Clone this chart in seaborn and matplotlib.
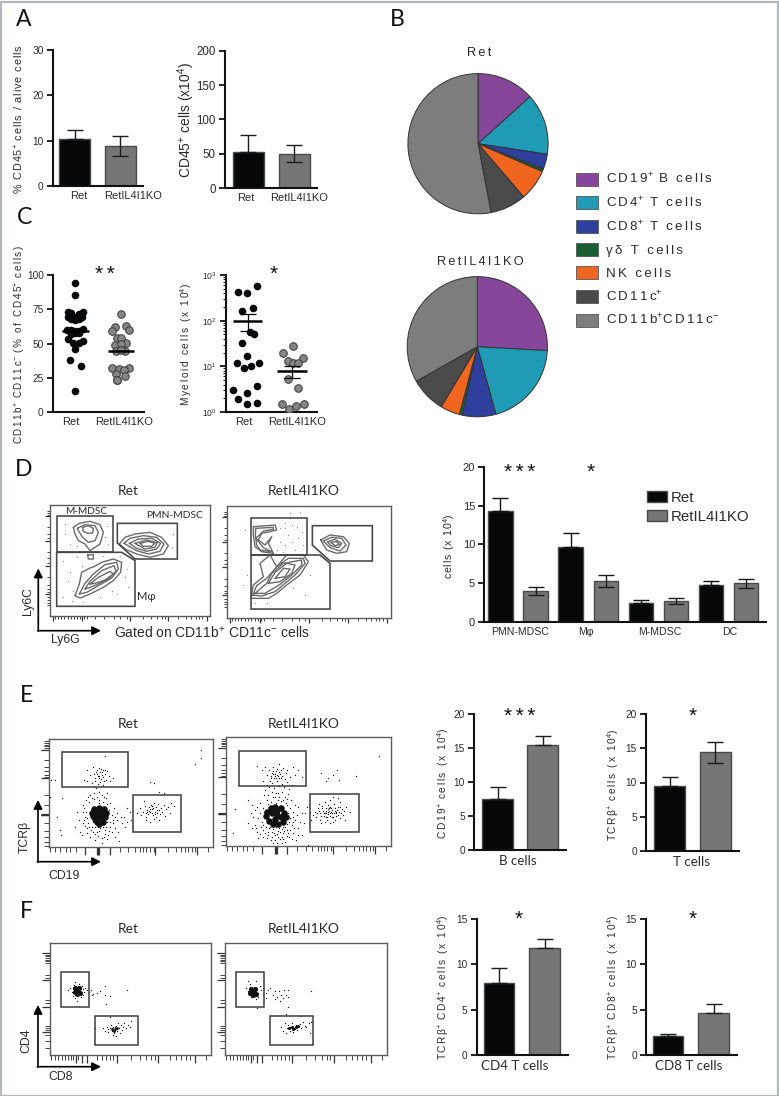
import numpy as np
import matplotlib
matplotlib.use("Agg")
import matplotlib.pyplot as plt
from matplotlib.patches import Patch, Rectangle, Polygon
from matplotlib.transforms import Affine2D
import seaborn as sns

W, H = 779, 1096
sns.set_theme(style="ticks")
plt.rcParams['font.family'] = ['Liberation Sans', 'DejaVu Sans']
plt.rcParams['mathtext.fontset'] = 'custom'
plt.rcParams['mathtext.rm'] = 'Liberation Sans'
plt.rcParams['mathtext.it'] = 'Liberation Sans'
plt.rcParams['mathtext.bf'] = 'Liberation Sans'
plt.rcParams['mathtext.default'] = 'regular'
INK = '#2a2a2a'
BLACK, GREY = '#050708', '#767676'
groups = ['Ret', 'RetIL4I1KO']

# ---------- data ----------
a1_vals, a1_top, a1_low = [10.5, 8.8], [12.5, 11.0], [10.5, 6.6]
a2_vals, a2_top, a2_low = [52, 50], [77, 62], [52, 38]
e1_vals, e1_top, e1_low = [7.5, 15.4], [9.2, 16.7], [7.5, 15.4]
e2_vals, e2_top, e2_low = [9.5, 14.4], [10.8, 15.9], [9.5, 12.8]
f1_vals, f1_top, f1_low = [8.0, 11.8], [9.6, 12.8], [8.0, 11.8]
f2_vals, f2_top, f2_low = [2.1, 4.65], [2.35, 5.6], [2.1, 4.65]

d_cats = ['PMN-MDSC', 'Mφ', 'M-MDSC', 'DC']
d_ret, d_ret_top = [14.3, 9.7, 2.5, 4.8], [16.0, 11.4, 2.85, 5.25]
d_ko, d_ko_top, d_ko_low = [4.0, 5.3, 2.7, 5.0], [4.5, 6.1, 3.05, 5.6], [3.5, 4.5, 2.35, 4.4]

pie_labels = ['CD19$^{+}$ B cells', 'CD4$^{+}$ T cells', 'CD8$^{+}$ T cells', 'γδ T cells',
              'NK cells', 'CD11c$^{+}$', 'CD11b$^{+}$CD11c$^{-}$']
pie_colors = ['#86479a', '#1f9bb5', '#2e3f9e', '#1a5e33', '#f0651f', '#4a4a4a', '#7d7d7d']
pie_ret = [13.3, 14.1, 3.4, 0.7, 7.2, 8.3, 52.95]
pie_ko = [25.9, 19.85, 7.7, 0.7, 4.5, 8.2, 33.2]

c1_ret_pos = [0, 0, -22, 24, -11, 13, 1, -20, 21, -11, 11, 0, -25, -13, -1, 11, 25, 0, -13, 13,
              -20, 25, -7, 13, 1, -15, 17, 0]
c1_ret = [94.4, 85.6, 73.2, 73, 72, 71.5, 69.6, 69.1, 69.1, 67.6, 67.6, 67.2, 59.9, 59.9, 59.4, 59.4,
          60.3, 57.4, 56.9, 57.4, 53.5, 52.1, 50.6, 50.1, 45.7, 38, 33.6, 15.1]
c1_ko_pos = [0, -16, 16, -26, 26, -10, 16, 0, -17, 0, -15, 13, 0, -25, 25, -4, 10, -15, 13, -11, -10]
c1_ko = [71.5, 61.8, 62.8, 58.9, 59.6, 53.9, 50.6, 53.9, 49, 49.6, 44.3, 44.5, 45, 32, 32.4, 31.5, 31,
         27.7, 26.3, 23.4, 23]
c1_means = [59.4, 44.6]

c2_ret_pos = [28, -31, -2, 14, -17, 7, 17, -17, -2, -35, 32, 10, -13, 27, -45, -2, -31, -2, 28]
c2_ret = [565, 424, 410, 186, 160, 55.5, 52, 32, 17, 11.6, 11.6, 10.3, 9.35, 3.65, 3.03, 2.56, 1.89, 1.47, 1.6]
c2_ko_pos = [0, -29, -14, 30, 0, 15, -15, 16, -34, 34, 10, -12]
c2_ko = [27.4, 19.6, 13.1, 15, 11.6, 12, 5.28, 3.41, 1.5, 1.5, 1.35, 1.16]
c2_means, c2_top, c2_low = [100, 7.8], [138, 10.2], [60, 5.46]

# flow cytometry: gates, contours and events in the channel units of each plot
dr_mgate = [(50, 67), (218, 67), (218, 175), (50, 175)]
dr_mac = [(50, 175), (245, 175), (285, 200), (285, 337), (50, 337)]
dr_pmn = [(232, 88), (412, 88), (412, 195), (285, 195), (232, 147)]
dr_contours = [
    [(100, 100), (118, 88), (150, 82), (180, 92), (190, 115), (180, 150), (150, 170), (135, 150), (115, 140), (105, 120)],
    [(112, 103), (135, 92), (165, 95), (175, 115), (165, 140), (145, 145), (128, 130), (118, 115)],
    [(128, 100), (145, 95), (160, 103), (158, 117), (143, 118), (130, 112)],
    [(238, 150), (255, 130), (285, 120), (330, 115), (365, 130), (385, 155), (370, 180), (330, 190), (290, 180), (255, 165)],
    [(252, 148), (270, 133), (310, 125), (350, 130), (372, 150), (360, 172), (325, 180), (290, 170)],
    [(268, 148), (295, 135), (335, 133), (362, 148), (350, 165), (320, 172), (290, 163)],
    [(285, 148), (320, 138), (352, 146), (345, 160), (315, 165)],
    [(300, 148), (325, 142), (345, 148), (335, 157), (310, 157)],
    [(143, 183), (160, 182), (160, 195), (145, 195)],
    [(105, 305), (118, 270), (125, 235), (150, 222), (162, 218), (185, 205), (220, 195), (245, 205), (242, 235), (220, 260), (190, 280), (150, 300), (120, 312)],
    [(118, 300), (135, 268), (160, 240), (195, 212), (230, 205), (235, 225), (215, 252), (175, 275), (140, 295)],
    [(135, 285), (150, 262), (185, 230), (222, 215), (228, 232), (205, 255), (170, 272), (145, 282)],
    [(150, 270), (175, 250), (210, 232), (220, 240), (195, 258), (165, 268)],
]
dr_events = np.array([(70, 200), (85, 260), (95, 320), (110, 190), (125, 215), (75, 120), (90, 150), (195, 130), (205, 150),
                      (200, 170), (190, 185), (100, 290), (255, 250), (260, 225), (265, 280), (215, 290), (90, 235), (110, 155),
                      (75, 90), (200, 95), (240, 185), (395, 160), (400, 120), (230, 300), (180, 310), (130, 325), (70, 310)]).T

dk_mgate = [(93, 70), (262, 70), (262, 180), (93, 180)]
dk_mac = [(93, 180), (300, 180), (330, 205), (330, 342), (93, 342)]
dk_pmn = [(277, 92), (457, 92), (457, 198), (330, 198), (277, 150)]
dk_contours = [
    [(100, 95), (165, 90), (170, 105), (150, 110), (125, 115), (115, 135), (135, 150), (155, 125), (145, 145), (160, 175), (125, 170), (105, 155), (100, 120)],
    [(107, 100), (160, 97), (160, 103), (130, 108), (108, 130), (130, 158), (155, 170), (120, 165), (110, 150), (106, 120)],
    [(302, 135), (330, 120), (370, 125), (388, 145), (380, 170), (350, 175), (320, 165)],
    [(310, 138), (335, 127), (365, 130), (378, 150), (360, 168), (330, 158)],
    [(322, 140), (345, 133), (365, 145), (355, 158), (332, 152)],
    [(332, 142), (350, 140), (358, 148), (345, 152)],
    [(92, 310), (100, 270), (130, 245), (120, 205), (150, 180), (170, 215), (200, 180), (250, 180), (265, 200), (240, 240), (200, 270), (170, 295), (145, 310), (110, 310)],
    [(98, 300), (110, 272), (140, 250), (170, 215), (205, 190), (250, 190), (255, 205), (225, 240), (195, 265), (165, 290), (125, 303)],
    [(105, 295), (140, 265), (155, 235), (190, 205), (245, 195), (245, 210), (215, 240), (180, 268), (135, 295)],
    [(145, 265), (165, 232), (200, 205), (225, 210), (215, 235), (180, 260)],
    [(165, 250), (190, 220), (210, 222), (195, 245)],
]
dk_events = np.array([(180, 100), (195, 85), (215, 90), (230, 95), (205, 120), (180, 140), (195, 150), (215, 140), (235, 130), (170, 165),
                      (190, 170), (225, 165), (245, 110), (210, 55), (240, 50), (75, 105), (80, 240), (70, 270), (105, 325), (140, 325),
                      (220, 280), (270, 240), (255, 300), (195, 100), (250, 150)]).T

er_T = np.array([(262, 272), (270, 285), (278, 262), (285, 295), (290, 270), (292, 283), (296, 264), (298, 290), (300, 276), (303, 298),
                 (305, 285), (308, 270), (310, 292), (314, 282), (318, 300), (322, 275), (326, 290), (252, 300), (260, 305), (275, 310),
                 (283, 318), (295, 312), (310, 315), (330, 305), (340, 295), (288, 325), (296, 335), (282, 340), (305, 345), (290, 350),
                 (276, 355), (298, 360), (313, 352), (320, 338), (270, 345), (314, 228), (288, 278), (294, 288), (302, 268), (306, 278),
                 (296, 296), (282, 282), (316, 270), (300, 306), (286, 305), (312, 305)]).T
er_halo = np.array([(240, 455), (248, 430), (255, 410), (232, 395), (262, 445), (270, 470), (278, 455), (285, 480), (295, 468), (305, 488),
                    (315, 462), (322, 478), (335, 455), (345, 470), (358, 482), (340, 430), (352, 420), (362, 410), (375, 440), (380, 425),
                    (330, 440), (248, 375), (258, 360), (265, 352), (330, 370), (342, 385), (350, 400), (318, 355), (238, 420), (225, 440),
                    (265, 430), (275, 440), (300, 445), (310, 440), (320, 425), (290, 455), (280, 425), (262, 415), (250, 395), (335, 405),
                    (328, 390), (345, 445), (305, 475), (262, 460), (245, 465), (325, 465), (300, 430), (285, 440), (315, 450), (355, 455),
                    (255, 438), (272, 450), (286, 462), (298, 452), (312, 470), (328, 452), (338, 420), (330, 425), (345, 412), (258, 395),
                    (252, 420), (268, 365), (282, 358), (296, 368), (310, 365), (322, 372), (252, 385), (268, 442), (293, 440), (318, 440)]).T
er_core = np.array([(285, 395), (300, 390), (310, 400), (295, 410), (280, 408), (305, 415), (290, 425), (298, 384), (276, 398), (315, 410),
                    (300, 402), (283, 386), (312, 388), (318, 398), (308, 425), (296, 432), (285, 416)]).T
er_B = np.array([(410, 400), (420, 385), (425, 405), (430, 395), (435, 378), (438, 410), (442, 390), (445, 402), (448, 382), (452, 395),
                 (455, 375), (458, 388), (460, 405), (463, 368), (465, 395), (468, 380), (470, 410), (473, 390), (476, 372), (480, 402),
                 (484, 385), (488, 395), (492, 375), (496, 408), (500, 388), (505, 380), (510, 398), (515, 370), (522, 378), (440, 420),
                 (450, 425), (462, 418), (478, 420), (432, 362), (450, 306), (462, 310), (478, 335), (494, 338), (380, 385), (390, 395),
                 (365, 430), (372, 410), (398, 440), (392, 420), (185, 355), (170, 410), (180, 450), (182, 465), (150, 350), (152, 300),
                 (585, 252), (603, 234), (605, 212), (165, 300), (447, 392), (456, 398), (461, 385), (466, 402), (452, 386), (472, 398),
                 (443, 396), (458, 378), (478, 390), (438, 398)]).T

ek_T = np.array([(772, 260), (785, 270), (795, 262), (802, 285), (808, 272), (812, 295), (816, 280), (820, 262), (824, 290), (828, 275),
                 (832, 285), (836, 252), (838, 295), (842, 272), (846, 288), (850, 265), (854, 298), (858, 280), (862, 272), (870, 292),
                 (878, 262), (885, 285), (895, 270), (905, 292), (790, 305), (800, 315), (815, 310), (830, 305), (845, 312), (860, 308),
                 (875, 315), (795, 330), (805, 345), (815, 335), (825, 352), (835, 340), (845, 335), (855, 350), (865, 342), (800, 360),
                 (812, 365), (828, 370), (842, 362), (858, 368), (872, 360), (965, 280), (980, 305), (985, 295), (1000, 285), (1012, 272),
                 (1018, 300), (1070, 290), (1137, 230), (818, 284), (826, 282), (834, 290), (822, 296), (836, 276), (840, 284), (828, 296),
                 (814, 288), (844, 294), (830, 268), (820, 274), (810, 304), (838, 318), (852, 322), (822, 325), (808, 322), (866, 328),
                 (828, 338), (838, 352), (818, 352), (850, 360), (805, 372), (835, 360), (860, 356), (792, 345)]).T
ek_halo = np.array([(745, 360), (755, 375), (765, 390), (780, 370), (790, 385), (705, 388), (755, 445), (770, 455), (782, 440), (790, 470),
                    (800, 430), (805, 455), (812, 480), (820, 440), (825, 465), (832, 490), (838, 445), (845, 470), (850, 440), (855, 485),
                    (860, 450), (868, 470), (875, 435), (880, 460), (888, 480), (895, 445), (905, 465), (870, 415), (880, 395), (895, 380),
                    (905, 400), (885, 375), (860, 375), (795, 410), (785, 425), (775, 415), (765, 435), (800, 395), (855, 425), (865, 400),
                    (870, 385), (815, 455), (835, 470), (850, 460), (790, 450), (810, 430), (845, 490), (925, 495), (700, 460), (745, 430),
                    (915, 400), (920, 380), (935, 420), (800, 475), (775, 475), (826, 480), (860, 468), (840, 455), (870, 450), (880, 425),
                    (808, 445), (818, 448), (828, 442), (835, 452), (845, 448), (855, 440), (862, 432), (868, 425), (798, 440), (788, 435),
                    (780, 400), (792, 395), (772, 380), (878, 410), (886, 420), (892, 405), (900, 425), (912, 430), (760, 410), (752, 398),
                    (815, 470), (822, 458), (830, 462), (840, 478), (852, 452), (865, 458), (875, 478), (883, 445), (893, 465), (805, 465),
                    (795, 460), (780, 462), (768, 445), (810, 440), (850, 478), (820, 488)]).T
ek_core = np.array([(800, 395), (812, 385), (826, 380), (842, 385), (852, 398), (858, 412), (850, 425), (835, 432), (820, 432), (806, 422),
                    (798, 408), (815, 400), (830, 405), (842, 410), (825, 418), (830, 390)]).T
ek_B = np.array([(945, 395), (950, 410), (955, 385), (960, 400), (962, 420), (966, 378), (970, 392), (972, 408), (975, 365), (978, 385),
                 (980, 400), (982, 420), (985, 375), (988, 392), (990, 408), (992, 360), (995, 385), (998, 400), (1000, 425), (1003, 372),
                 (1006, 392), (1010, 408), (1014, 380), (1018, 395), (1022, 365), (1026, 388), (1030, 405), (1040, 380), (1050, 395), (965, 430),
                 (975, 425), (990, 430), (1005, 420), (1020, 415), (1035, 420), (958, 372), (1000, 352), (1015, 355), (985, 395), (995, 395),
                 (975, 398), (1005, 385), (992, 380), (982, 410), (1000, 410), (968, 385), (972, 400), (978, 392), (984, 402), (988, 384),
                 (992, 398), (996, 390), (1002, 398), (1008, 400), (1012, 390), (1016, 405), (1020, 382), (965, 408), (958, 392), (978, 412),
                 (996, 412), (1010, 395), (986, 388), (1024, 398), (1033, 392), (952, 400), (940, 405), (932, 395)]).T

fr_cd4 = np.array([(210, 925), (215, 938), (222, 915), (245, 918), (250, 945), (243, 952), (225, 955), (232, 962), (260, 932), (268, 938), (272, 930),
                   (218, 948), (248, 928), (225, 908), (237, 912), (205, 932), (275, 945), (290, 940), (300, 935), (315, 920), (278, 942), (314, 945),
                   (330, 948), (380, 930), (317, 972), (255, 925), (252, 938)]).T
fr_cd4_core = np.array([(226, 925), (238, 925), (232, 932), (224, 938), (240, 940), (232, 942)]).T
fr_cd8 = np.array([(285, 1044), (310, 1045), (315, 1052), (320, 1040), (325, 1055), (330, 1045), (332, 1035), (336, 1052), (340, 1042), (342, 1060),
                   (345, 1048), (348, 1038), (350, 1052), (354, 1028), (356, 1045), (360, 1058), (362, 1036), (366, 1050), (370, 1042), (372, 1030),
                   (378, 1045), (385, 1036), (390, 1040), (392, 1022), (330, 1010), (338, 1065), (348, 1068), (325, 1048), (335, 1045), (345, 1042), (352, 1046), (340, 1050)]).T
fr_cd8_core = np.array([(335, 1046), (345, 1048), (352, 1044), (342, 1052)]).T

fk_cd4 = np.array([(740, 925), (745, 905), (752, 912), (748, 945), (755, 952), (770, 905), (780, 918), (775, 950), (770, 958), (785, 932), (790, 925),
                   (745, 935), (790, 945), (800, 940), (812, 925), (820, 945), (825, 935), (832, 950), (838, 935), (845, 945), (852, 930), (860, 945),
                   (865, 932), (865, 952), (825, 958), (840, 962), (865, 980), (935, 935), (772, 985), (798, 955), (805, 932), (850, 955)]).T
fk_cd4_core = np.array([(754, 928), (766, 928), (760, 935), (752, 940), (768, 942), (760, 945)]).T
fk_cd8 = np.array([(845, 1040), (850, 1052), (855, 1030), (858, 1060), (862, 1045), (866, 1035), (870, 1052), (874, 1042), (878, 1030), (880, 1055),
                   (884, 1045), (888, 1036), (892, 1050), (896, 1040), (900, 1032), (905, 1045), (910, 1025), (915, 1038), (920, 1042), (928, 1030),
                   (935, 1025), (932, 1060), (905, 1008), (858, 1002), (875, 1042), (880, 1040), (885, 1048), (870, 1040), (890, 1042), (895, 1035), (880, 1045), (865, 1045)]).T
fk_cd8_core = np.array([(868, 1044), (878, 1042), (888, 1040), (880, 1048), (896, 1038)]).T

tick_d_x_maj = [0.02, 0.2, 0.5, 0.74, 0.98]
tick_d_x_min = [0.03, 0.05, 0.07, 0.09, 0.11, 0.13, 0.15, 0.17, 0.19, 0.21, 0.23, 0.28, 0.34, 0.4, 0.44, 0.48, 0.58, 0.63, 0.67, 0.7, 0.72, 0.8, 0.85, 0.88, 0.91, 0.93, 0.95]
tick_d_y_maj = [0.1, 0.32, 0.55, 0.8]
tick_d_y_min = [0.05, 0.07, 0.09, 0.2, 0.26, 0.3, 0.42, 0.48, 0.52, 0.65, 0.72, 0.76, 0.78, 0.83, 0.86, 0.88, 0.9]
tick_e_x_maj = [0.221, 0.296, 0.3, 0.308, 0.372, 0.648, 0.9]
tick_e_x_min = [0.008, 0.038, 0.069, 0.103, 0.13, 0.166, 0.433, 0.484, 0.524, 0.555, 0.575, 0.595, 0.615, 0.638, 0.727, 0.777, 0.808, 0.83, 0.85, 0.87, 0.888, 0.97]
tick_e_y_maj = [0.1, 0.366, 0.699, 0.702, 0.705]
tick_e_y_min = [0.022, 0.037, 0.053, 0.068, 0.084, 0.193, 0.261, 0.301, 0.332, 0.354, 0.519, 0.612, 0.782, 0.851, 0.907, 0.953, 0.99]
tick_f_x_maj = [0.161, 0.196, 0.231, 0.416, 0.673, 0.899]
tick_f_x_min = [0.004, 0.031, 0.052, 0.072, 0.093, 0.114, 0.128, 0.145, 0.174, 0.29, 0.32, 0.347, 0.372, 0.393, 0.502, 0.558, 0.599, 0.63, 0.651, 0.744, 0.785, 0.816, 0.847, 0.868, 0.971]
tick_f_y_maj = [0.09, 0.33, 0.57, 0.8]
tick_f_y_min = [0.105, 0.12, 0.135, 0.15, 0.165, 0.18, 0.29, 0.31, 0.51, 0.54, 0.74, 0.76, 0.78, 0.82, 0.88, 0.94]

# ---------- helpers ----------
fig = plt.figure(figsize=(W / 100, H / 100), dpi=100, facecolor='white')
PX = Affine2D().scale(1 / W, -1 / H).translate(0, 1) + fig.transFigure
HS = '\u200a'


def sp(s, n=1):
    """widen tracking of plain text runs; math runs are left alone"""
    parts = s.split('$')
    for i in range(0, len(parts), 2):
        parts[i] = (HS * n).join(parts[i])
    return '$'.join(parts)


def mkax(x0, x1, ytop, ybot):
    return fig.add_axes([x0 / W, 1 - ybot / H, (x1 - x0) / W, (ybot - ytop) / H], facecolor='none')


def txt(x, y, s, size=8, ha='center', va='center', rot=0, color=INK, family=None, weight=None):
    kw = {'family': family} if family else {}
    fig.text(x / W, 1 - y / H, s, fontsize=size, ha=ha, va=va, rotation=rot, color=color, weight=weight, **kw)


def style_axis(ax, tick_size):
    sns.despine(ax=ax)
    for s in ('left', 'bottom'):
        ax.spines[s].set_linewidth(1.5)
        ax.spines[s].set_color('#111111')
    ax.tick_params(axis='y', length=4, width=1.3, pad=2.5, labelsize=tick_size, labelcolor=INK, color='#111111')
    ax.tick_params(axis='x', length=0, pad=3.5, labelsize=8, labelcolor=INK)


def ylab(ax, s, x, y, size):
    ax.set_ylabel(s, fontsize=size, color=INK, va='center', ha='center')
    ax.yaxis.set_label_coords(x, y, transform=PX)


def bar_panel(box, ymax, yticks, edges, vals, top, low, ylabel, lab_pos, xlabels, tick_size=7.3, xfont=None, xsize=8):
    x0, x1, yt, yb = box
    ax = mkax(x0, x1, yt, yb)
    (a0, a1), (b0, b1) = edges
    c0, c1 = (a0 + a1) / 2, (b0 + b1) / 2
    d = c1 - c0
    sns.barplot(x=groups, y=vals, hue=groups, palette=[BLACK, GREY], legend=False, ax=ax,
                width=(a1 - a0) / d, edgecolor='#4a4a4a', linewidth=1.0, saturation=1)
    ax.errorbar([0, 1], vals, yerr=[np.array(vals) - np.array(low), np.array(top) - np.array(vals)],
                fmt='none', ecolor='#1c1c1c', elinewidth=1.0, capsize=5.5, capthick=1.0, zorder=5)
    ax.set_xlim((x0 - c0) / d, (x1 - c0) / d)
    ax.set_ylim(0, ymax)
    ax.set_yticks(yticks)
    style_axis(ax, tick_size)
    ax.set_xticks([(p - c0) / d for p in lab_pos])
    ax.set_xticklabels(xlabels, fontsize=xsize, **({'family': xfont} if xfont else {}))
    ax.set_xlabel('')
    ylab(ax, *ylabel)
    return ax


def gate(ax, pts, color='#454545', lw=1.15):
    ax.add_patch(Polygon(pts, closed=True, fill=False, edgecolor=color, linewidth=lw, zorder=4))


def flow_ax(box, lims, ticks, tick_len):
    x0, x1, yt, yb = box
    ax = mkax(x0, x1, yt, yb)
    ax.set_xlim(lims[0], lims[1])
    ax.set_ylim(lims[2], lims[3])
    for s in ax.spines.values():
        s.set_linewidth(1.0)
        s.set_color('#5c5c5c')
    xmaj, xmin, ymaj, ymin = ticks
    xs = lims[1] - lims[0]
    ys = lims[2] - lims[3]
    ax.set_xticks([lims[0] + f * xs for f in xmaj])
    ax.set_xticks([lims[0] + f * xs for f in xmin], minor=True)
    ax.set_yticks([lims[3] + f * ys for f in ymaj])
    ax.set_yticks([lims[3] + f * ys for f in ymin], minor=True)
    ax.tick_params(which='major', length=tick_len * 1.6, width=0.9, color='#333333', labelbottom=False, labelleft=False)
    ax.tick_params(which='minor', length=tick_len, width=0.7, color='#444444')
    return ax


def dots(ax, arr, s=0.9, color='#111111'):
    sns.scatterplot(x=arr[0], y=arr[1], s=s, color=color, linewidth=0, legend=False, ax=ax, zorder=3)


def contours(ax, rings):
    for r in rings:
        p = np.array(r + [r[0]])
        ax.plot(p[:, 0], p[:, 1], color='#6a6a6a', lw=1.0, zorder=3)


def arrows(xc, ybot, ytop, xend):
    ov = fig.add_axes([0, 0, 1, 1], facecolor='none')
    ov.set_xlim(0, W)
    ov.set_ylim(H, 0)
    ov.axis('off')
    ov.annotate('', xy=(xc, ytop), xytext=(xc, ybot + 0.6),
                arrowprops=dict(arrowstyle='-|>', color='black', lw=1.2, mutation_scale=13, shrinkA=0, shrinkB=0))
    ov.annotate('', xy=(xend, ybot), xytext=(xc - 0.6, ybot),
                arrowprops=dict(arrowstyle='-|>', color='black', lw=1.2, mutation_scale=13, shrinkA=0, shrinkB=0))


# ---------- outer frame ----------
fig.patches.append(Rectangle((0.5 / W, 0.5 / H), (W - 2) / W, (H - 2.5) / H, transform=fig.transFigure,
                             fill=False, edgecolor='#b4b8bc', linewidth=1.6))

# ---------- A ----------
lab_x = [79, 132.7]
bar_panel((52.7, 143, 50, 186.3), 30, [0, 10, 20, 30], [(59, 90), (105, 135)], a1_vals, a1_top, a1_low,
          (sp('% CD45$^{+}$ cells / alive cells', 1), 19.3, 119, 7.8), lab_x, groups)
bar_panel((225, 317, 50.7, 188), 200, [0, 50, 100, 150, 200], [(233, 264), (279, 310)], a2_vals, a2_top, a2_low,
          ('CD45$^{+}$ cells (x10$^{4}$)', 186.7, 120, 10), [245.5, 299], groups, tick_size=8.3)

# ---------- C ----------
swarm_unit = 137.0
ax = mkax(52.7, 144, 275, 412)
c0, d = 75.0, 45.7
sns.scatterplot(x=np.array(c1_ret_pos) / swarm_unit, y=c1_ret, s=30, color=BLACK, linewidth=0, legend=False, ax=ax, zorder=3)
sns.scatterplot(x=1 + np.array(c1_ko_pos) / swarm_unit, y=c1_ko, s=30, color='#858585', edgecolor='#3a3a3a', linewidth=0.7, legend=False, ax=ax, zorder=3)
ax.hlines(c1_means, [-0.28, 0.72], [0.31, 1.3], color='black', lw=1.8, zorder=4)
ax.set_xlim((52.7 - c0) / d, (144 - c0) / d)
ax.set_ylim(0, 100)
ax.set_yticks([0, 25, 50, 75, 100])
style_axis(ax, 7.3)
ax.set_xticks([(71 - c0) / d, (124.5 - c0) / d])
ax.set_xticklabels(groups)
ylab(ax, sp('CD11b$^{+}$ CD11c$^{-}$ (% of CD45$^{+}$ cells)', 2), 20, 344, 7.1)

ax = mkax(226, 317, 275, 412)
c0, d = 248.0, 45.0
sns.scatterplot(x=np.array(c2_ret_pos) / swarm_unit, y=c2_ret, s=30, color=BLACK, linewidth=0, legend=False, ax=ax, zorder=3)
sns.scatterplot(x=1 + np.array(c2_ko_pos) / swarm_unit, y=c2_ko, s=30, color='#858585', edgecolor='#3a3a3a', linewidth=0.7, legend=False, ax=ax, zorder=3)
ax.hlines(c2_means, [-0.33, 0.64], [0.32, 1.3], color='black', lw=1.8, zorder=4)
ax.errorbar([0, 0.98], c2_means, yerr=[np.array(c2_means) - np.array(c2_low), np.array(c2_top) - np.array(c2_means)],
            fmt='none', ecolor='black', elinewidth=0.9, capsize=5.5, capthick=0.9, zorder=4)
ax.set_yscale('log')
ax.set_xlim((226 - c0) / d, (317 - c0) / d)
ax.set_ylim(1, 1000)
ax.set_yticks([1, 10, 100, 1000])
ax.set_yticklabels(['$10^{0}$', '$10^{1}$', '$10^{2}$', '$10^{3}$'])
style_axis(ax, 6.2)
ax.tick_params(axis='y', which='minor', length=2.2, width=0.7, color='#111111', labelleft=False)
ax.set_xticks([(243.5 - c0) / d, (297 - c0) / d])
ax.set_xticklabels(groups)
ylab(ax, sp('Myeloid cells (x 10$^{4}$)', 2), 186, 345, 7.3)

# ---------- B ----------
for (cx, cy, vals) in ((478, 143.7, pie_ret), (477.3, 346.7, pie_ko)):
    r = 70.8
    ax = mkax(cx - r, cx + r, cy - r, cy + r)
    ax.pie(vals, colors=pie_colors, startangle=90, counterclock=False, radius=1,
           wedgeprops=dict(edgecolor='#333333', linewidth=0.7))
    ax.set_xlim(-1.01, 1.01)
    ax.set_ylim(-1.01, 1.01)
txt(479, 53.3, sp('Ret', 2), 9.2)
txt(480, 262, sp('RetIL4I1KO', 2), 9.2)

handles = [Patch(facecolor=c, edgecolor='#555555', linewidth=0.6) for c in pie_colors]
fig.legend(handles, [sp(l, 2) for l in pie_labels], loc='upper left', bbox_to_anchor=(576, 171.5), bbox_transform=PX,
           frameon=False, fontsize=9.6, handlelength=1.63, handleheight=1.12, labelspacing=0.66, handletextpad=0.62,
           borderpad=0, borderaxespad=0, labelcolor=INK)

# ---------- D ----------
dr_box = (50, 210, 505, 616)
dk_box = (226.7, 390.7, 506, 617.7)
ticks_d = (tick_d_x_maj, tick_d_x_min, tick_d_y_maj, tick_d_y_min)
ax = flow_ax(dr_box, (30, 510, 366, 33), ticks_d, 2.2)
for g in (dr_mgate, dr_mac, dr_pmn):
    gate(ax, g)
contours(ax, dr_contours)
dots(ax, dr_events, 0.8, '#8a8a8a')
ax = flow_ax(dk_box, (20, 512, 368, 33), ticks_d, 2.2)
gate(ax, dk_mgate)
gate(ax, dk_mac)
gate(ax, dk_pmn)
contours(ax, dk_contours)
dots(ax, dk_events, 0.8, '#8a8a8a')
txt(86, 511.5, 'M-MDSC', 7.2, family='Lato')
txt(175, 515.7, 'PMN-MDSC', 7.4, family='Lato')
txt(146.5, 596.7, 'Mφ', 8, family=['Lato', 'DejaVu Sans'])
txt(128, 490.7, 'Ret', 10, family='Lato')
txt(304, 490.7, 'RetIL4I1KO', 10, family='Lato')
arrows(38.3, 630.7, 568.5, 101)
txt(28, 601, 'Ly6C', 8.8, rot=90)
txt(65, 639.5, 'Ly6G', 8.8)
txt(212, 632.7, 'Gated on CD11b$^{+}$ CD11c$^{-}$ cells', 10)

ax = mkax(484, 765.7, 466.7, 622)
c0, d = 518.0, 70.2
dcat = d_cats + d_cats
dhue = [groups[0]] * 4 + [groups[1]] * 4
sns.barplot(x=dcat, y=d_ret + d_ko, hue=dhue, palette=[BLACK, GREY], width=1.0, gap=0.307, ax=ax,
            edgecolor='#4a4a4a', linewidth=1.0, saturation=1)
pos = np.arange(4)
ax.errorbar(pos - 0.25, d_ret, yerr=[np.zeros(4), np.array(d_ret_top) - np.array(d_ret)], fmt='none', ecolor='#111111',
            elinewidth=1.0, capsize=5.5, capthick=1.0, zorder=5)
ax.errorbar(pos + 0.25, d_ko, yerr=[np.array(d_ko) - np.array(d_ko_low), np.array(d_ko_top) - np.array(d_ko)], fmt='none',
            ecolor='#1c1c1c', elinewidth=1.0, capsize=5.5, capthick=1.0, zorder=5)
ax.set_xlim((484 - c0) / d, (765.7 - c0) / d)
ax.set_ylim(0, 20)
ax.set_yticks([0, 5, 10, 15, 20])
style_axis(ax, 8.0)
ax.set_xticks([(p - c0) / d for p in (520, 585.7, 660, 729.3)])
ax.set_xticklabels(d_cats, fontsize=7.6)
ax.set_xlabel('')
ylab(ax, sp('cells (x 10$^{4}$)', 1), 449.3, 546, 7.6)
leg = ax.legend(loc='upper left', bbox_to_anchor=(647.5, 490.5), bbox_transform=PX, frameon=False, fontsize=10.8,
                handlelength=1.33, handleheight=0.73, labelspacing=0.34, handletextpad=0.25, borderpad=0, borderaxespad=0,
                labelcolor=INK)

# ---------- E ----------
ticks_e = (tick_e_x_maj, tick_e_x_min, tick_e_y_maj, tick_e_y_min)
er_box = (48.7, 213, 739, 846.7)
ek_box = (226, 391, 737, 846)
ax = flow_ax(er_box, (146, 640, 500, 178), ticks_e, 3.4)
gate(ax, [(187, 218), (385, 218), (385, 322), (187, 322)])
gate(ax, [(400, 345), (544, 345), (544, 457), (400, 457)])
for arr in (er_T, er_halo, er_B):
    dots(ax, arr)
dots(ax, er_core, 22)
ax = flow_ax(ek_box, (678, 1174, 498, 172), ticks_e, 3.4)
gate(ax, [(718, 213), (917, 213), (917, 320), (718, 320)])
gate(ax, [(932, 342), (1077, 342), (1077, 455), (932, 455)])
for arr in (ek_T, ek_halo, ek_B):
    dots(ax, arr)
dots(ax, ek_core, 22)
txt(128, 724, 'Ret', 10, family='Lato')
txt(304, 724, 'RetIL4I1KO', 10, family='Lato')
arrows(38, 861.7, 800, 101)
txt(24.7, 836.7, 'TCRβ', 8.8, rot=90)
txt(64, 875.7, 'CD19', 8.8)

bar_panel((474, 566, 713.7, 850.3), 20, [0, 5, 10, 15, 20], [(482, 513), (527.3, 558)], e1_vals, e1_top, e1_low,
          (sp('CD19$^{+}$ cells (x 10$^{4}$)', 2), 442.7, 783, 7.3), [518], ['B cells'], xfont='Lato', xsize=9.6)
bar_panel((646, 738.7, 714.3, 850.7), 20, [0, 5, 10, 15, 20], [(654.3, 685), (700, 730.7)], e2_vals, e2_top, e2_low,
          (sp('TCRβ$^{+}$ cells (x 10$^{4}$)', 2), 612.7, 785, 7.3), [691.7], ['T cells'], xfont='Lato', xsize=9.6)

# ---------- F ----------
ticks_f = (tick_f_x_maj, tick_f_x_min, tick_f_y_maj, tick_f_y_min)
fr_box = (50, 211, 943, 1054.7)
fk_box = (225, 387, 943, 1054.7)
ax = flow_ax(fr_box, (150, 634, 1124, 790), ticks_f, 3.4)
gate(ax, [(182, 878), (268, 878), (268, 980), (182, 980)])
gate(ax, [(284, 1008), (414, 1008), (414, 1094), (284, 1094)])
dots(ax, fr_cd4)
dots(ax, fr_cd8)
dots(ax, fr_cd4_core, 14)
dots(ax, fr_cd8_core, 4)
ax = flow_ax(fk_box, (676, 1162, 1124, 790), ticks_f, 3.4)
gate(ax, [(709, 878), (794, 878), (794, 980), (709, 980)])
gate(ax, [(812, 1008), (941, 1008), (941, 1094), (812, 1094)])
dots(ax, fk_cd4)
dots(ax, fk_cd8)
dots(ax, fk_cd4_core, 14)
dots(ax, fk_cd8_core, 5)
txt(128, 929.3, 'Ret', 10, family='Lato')
txt(304, 929.3, 'RetIL4I1KO', 10, family='Lato')
arrows(38, 1066.7, 1005, 101)
txt(26, 1040.7, 'CD4', 8.8, rot=90)
txt(60.7, 1076.7, 'CD8', 8.8)

bar_panel((476.7, 568.3, 919, 1055.3), 15, [0, 5, 10, 15], [(483.7, 514.3), (529.3, 560)], f1_vals, f1_top, f1_low,
          (sp('TCRβ$^{+}$ CD4$^{+}$ cells (x 10$^{4}$)', 2), 442.7, 987, 7.3), [515], ['CD4 T cells'], xfont='Lato', xsize=9.6)
bar_panel((646, 737.3, 919, 1055.3), 15, [0, 5, 10, 15], [(652.7, 683.3), (698.3, 729)], f2_vals, f2_top, f2_low,
          (sp('TCRβ$^{+}$ CD8$^{+}$ cells (x 10$^{4}$)', 2), 612.7, 987, 7.3), [689], ['CD8 T cells'], xfont='Lato', xsize=9.6)

# ---------- significance stars ----------
for x, y, s in [(105, 274, '**'), (274, 274, '*'), (520, 472, '***'), (591, 472, '*'),
                (520, 716, '***'), (693, 716, '*'), (519, 919, '*'), (693, 919, '*')]:
    txt(x, y, sp(s, 2), 15, color='#111111')

# ---------- panel letters ----------
for x, y, s in [(24, 20, 'A'), (397, 20, 'B'), (24, 218, 'C'), (24, 470, 'D'), (26, 695, 'E'), (26, 911.7, 'F')]:
    txt(x, y, s, 16.5, color='#111111', family='Lato')

fig.savefig('out.png', dpi=100, facecolor='white')
